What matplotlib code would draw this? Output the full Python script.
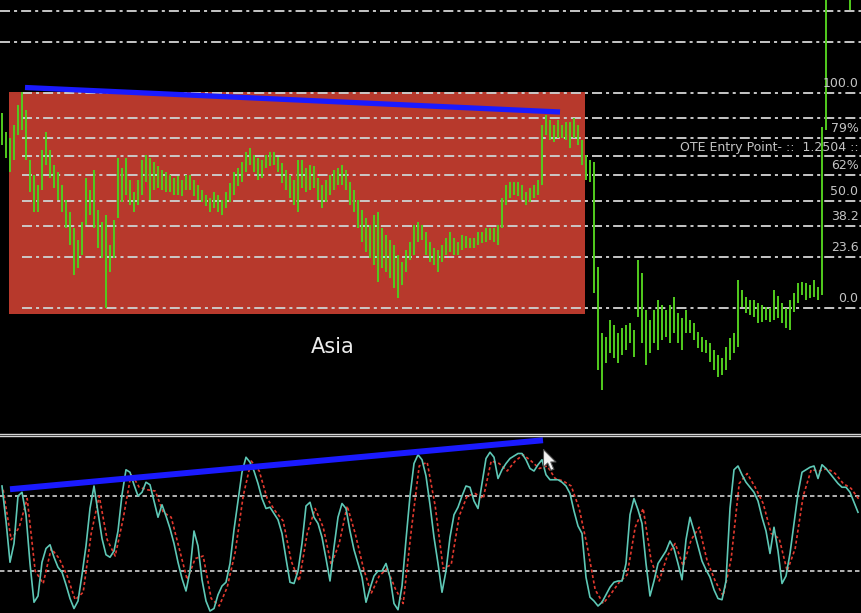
import numpy as np
import matplotlib
matplotlib.use("Agg")
import matplotlib.pyplot as plt
from matplotlib.path import Path
from matplotlib.lines import Line2D

plt.rcParams['lines.scale_dashes'] = False
plt.rcParams['font.family'] = ['DejaVu Sans']

# ---------------- data (price in points above the swing low) ----------------
bar_high = [195,176,170,183,203,216,198,148,133,123,
            158,176,158,143,136,123,108,96,80,68,
            86,130,118,138,98,86,93,63,88,150,
            140,150,128,116,128,148,153,150,146,142,
            138,136,133,130,132,128,133,133,128,123,
            118,113,110,116,113,108,116,125,136,140,
            146,156,160,153,150,148,153,156,156,151,
            145,138,133,128,148,148,140,143,142,130,
            123,128,133,138,140,143,138,126,118,108,
            98,90,83,93,96,80,73,68,63,53,
            46,58,66,83,86,83,76,66,60,58,
            63,70,76,70,66,73,72,70,70,76,
            76,80,80,80,83,110,123,126,126,126,
            123,116,120,123,128,183,193,188,183,188,
            183,186,186,190,183,168,153,148,146,41,
            -25,-29,-12,-17,-25,-20,-17,-15,-22,48,
            35,-2,-12,-2,8,3,-2,3,11,-5,
            -10,-2,-12,-15,-24,-29,-32,-35,-42,-47,
            -50,-39,-30,-25,28,18,11,8,8,5,
            3,1,0,18,12,5,0,8,15,25,
            26,25,23,28,21,181,330,372,395,380,
            405,420,318]
bar_low = [163,150,136,148,173,178,148,116,96,96,
           118,143,130,120,108,96,80,63,33,40,
           53,83,93,80,60,50,0,36,50,90,
           106,113,103,96,103,113,126,108,118,120,
           118,116,116,113,113,112,118,118,112,108,
           106,102,96,100,96,93,100,106,113,122,
           126,136,143,136,128,130,140,142,143,136,
           125,118,110,103,96,120,116,118,120,108,
           100,106,113,118,123,123,118,103,96,80,
           66,56,50,43,26,40,36,30,20,10,
           23,36,48,53,66,68,53,46,43,36,
           46,53,56,53,53,58,60,60,60,63,
           65,66,68,66,63,80,103,110,113,112,
           108,103,106,110,113,123,173,168,166,170,
           170,168,160,170,163,143,128,126,15,-62,
           -82,-55,-45,-50,-55,-47,-42,-35,-49,-9,
           -35,-57,-45,-35,-42,-32,-29,-35,-25,-35,
           -42,-25,-25,-32,-40,-44,-45,-54,-62,-69,
           -67,-62,-52,-45,-39,1,-5,-7,-9,-15,
           -14,-12,-14,-12,-10,-15,-20,-22,-4,5,
           13,8,10,11,8,13,178,320,340,350,
           365,380,298]

stoch_main = [88,60,27,42,80,83,65,26,-5,0,
              27,38,41,31,23,19,9,-2,-10,-4,
              17,40,70,88,67,46,33,31,36,52,
              81,101,99,89,80,83,91,89,76,63,
              73,64,54,42,27,14,4,20,52,40,
              13,-4,-12,-10,1,8,11,26,53,76,
              99,111,107,100,90,78,70,71,66,61,
              50,30,11,10,20,42,72,75,63,58,
              47,30,12,39,63,74,70,52,37,26,
              15,-5,6,16,20,20,26,15,-6,-11,
              8,45,80,106,113,109,96,73,47,26,
              3,20,47,65,71,80,88,87,76,70,
              90,110,115,111,94,101,106,110,112,114,
              114,109,102,100,105,109,97,93,93,93,
              91,88,82,68,56,50,15,-1,-4,-8,
              -5,1,7,11,12,12,26,65,78,69,
              58,26,0,12,26,31,36,44,38,26,
              13,45,63,52,40,28,21,15,5,-2,
              -3,12,70,101,104,97,91,87,83,76,
              63,52,34,55,36,10,16,34,58,82,
              99,101,103,104,94,105,102,98,94,90,
              87,87,83,75,67]
# signal line, read at every second bar
stoch_signal = [85,45,55,78,20,10,38,30,16,-3,
                3,50,80,45,32,62,98,87,85,84,
                67,63,38,13,30,32,-2,-8,7,35,
                80,108,100,78,68,60,28,12,50,70,
                55,25,42,72,50,23,2,16,22,6,
                -6,52,104,107,72,22,25,64,80,82,
                78,108,106,100,108,113,108,102,104,94,
                92,88,70,40,5,-6,2,11,17,55,
                70,28,12,32,42,24,45,55,28,12,
                0,30,90,98,87,74,50,46,20,38,
                80,101,100,102,98,90,86,77]
stoch_levels = [80, 20]

fib_low, fib_high = 0, 215
fib_pcts = [0, 23.6, 38.2, 50, 62, 70.5, 79, 88.6, 100, 123.6, 138.2]
fib_text = {0: "0.0", 23.6: "23.6", 38.2: "38.2", 50: "50.0", 62: "62%",
            70.5: "OTE Entry Point- ::  1.2504 ::", 79: "79%", 100: "100.0"}
fib_anchor_bar = 5
asia_box = {"start": 1.75, "end": 145.75, "top": 216, "bottom": -6}
asia_label = ("Asia", 82.75, -39)
price_trend = [(5.75, 220.5), (139.5, 196)]
osc_trend = [(2, 85.4), (135.25, 124.6)]
cursor_pos = (135.3, 118)

# ---------------- figure ----------------
W, H = 861, 613
fig = plt.figure(figsize=(W / 100, H / 100), dpi=100, facecolor="black")
top_px, sep_px = 431, 437
ax = fig.add_axes([0, (H - top_px) / H, 1, top_px / H])
ax2 = fig.add_axes([0, 0, 1, (H - sep_px) / H])
for a in (ax, ax2):
    a.set_facecolor("black")
    a.set_axis_off()

n = len(bar_high)
idx = np.arange(n)
xlim = (-0.5, 214.75)
ax.set_xlim(*xlim)
ax.set_ylim(-123, 308)
ax2.set_xlim(*xlim)
ax2.set_ylim(-13.6, 127.2)

# Asia session box
ax.add_patch(plt.Rectangle((asia_box["start"], asia_box["bottom"]),
                           asia_box["end"] - asia_box["start"],
                           asia_box["top"] - asia_box["bottom"],
                           facecolor="#b7392c", edgecolor="none", zorder=1))

# fib levels
rng = fib_high - fib_low
for p in fib_pcts:
    y = fib_low + rng * p / 100.0
    x0 = fib_anchor_bar if p <= 100 else xlim[0]
    ax.plot([x0, xlim[1]], [y, y], color="#cdcdcd", lw=1.35,
            ls=(0, (7.2, 2.9, 2.2, 2.9)), zorder=2)
    if p in fib_text:
        ax.annotate(fib_text[p], xy=(0.997, y), xycoords=ax.get_yaxis_transform(),
                    xytext=(0, 2), textcoords="offset points",
                    ha="right", va="bottom", color="#c4c4c4", fontsize=9, zorder=5)

# price bars
ax.vlines(idx, bar_low, bar_high, color="#52cc1e", lw=1.4, zorder=3)

# trend line on price
ax.plot([p[0] for p in price_trend], [p[1] for p in price_trend],
        color="#1a1aff", lw=3.8, solid_capstyle="butt", zorder=4)

ax.text(asia_label[1], asia_label[2], asia_label[0], color="#ececec",
        fontsize=15, ha="center", va="center", zorder=5)

# separator double line
for yy in (433.5, 436.0):
    fig.add_artist(Line2D([0, 1], [1 - yy / H, 1 - yy / H], transform=fig.transFigure,
                          color="#d5d5d5", lw=1.0))

# oscillator
for lv in stoch_levels:
    ax2.plot(list(xlim), [lv, lv], color="#d2d2d2", lw=1.2, ls=(0, (3.2, 2.2)), zorder=1)
sig_idx = np.arange(0, n + 2, 2)[:len(stoch_signal)]
ax2.plot(sig_idx + 0.3, stoch_signal, color="#e2392e", lw=1.2, ls=(0, (2.2, 1.8)), zorder=2)
ax2.plot(np.arange(len(stoch_main)), stoch_main, color="#5ec8b6", lw=1.2, zorder=3)
ax2.plot([p[0] for p in osc_trend], [p[1] for p in osc_trend],
         color="#1a1aff", lw=4.3, solid_capstyle="butt", zorder=4)

# mouse cursor
arrow = Path([(0, 0), (0, -17), (4, -13), (7, -20), (10, -19), (7, -12), (12, -12), (0, 0)],
             [Path.MOVETO] + [Path.LINETO] * 6 + [Path.CLOSEPOLY])
ax2.plot([cursor_pos[0]], [cursor_pos[1]], marker=arrow, markersize=30,
         markerfacecolor="#f2f2f2", markeredgecolor="#505050", markeredgewidth=0.8,
         ls="none", zorder=6, clip_on=False)

fig.savefig("out.png", dpi=100, facecolor="black")
